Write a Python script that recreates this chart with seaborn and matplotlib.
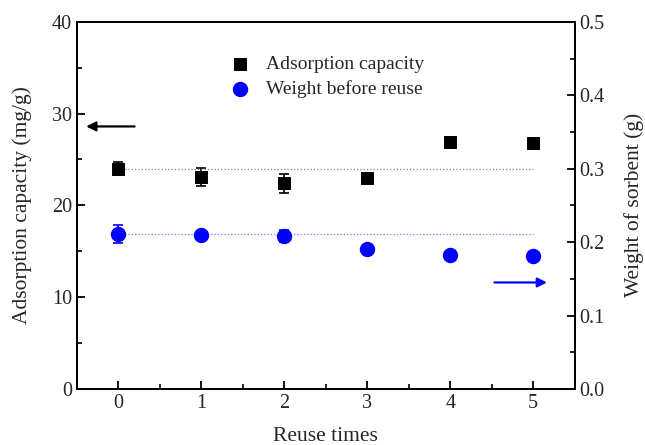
import numpy as np
import pandas as pd
import seaborn as sns
import matplotlib.pyplot as plt
from matplotlib.ticker import MultipleLocator

reuse_times = [0, 1, 2, 3, 4, 5]
capacity = [24.0, 23.1, 22.4, 23.0, 26.9, 26.8]
capacity_err = [0.7, 1.0, 1.0, 0.3, 0.3, 0.3]
weight = [0.211, 0.209, 0.208, 0.191, 0.183, 0.181]
weight_err = [0.012, 0.005, 0.008, 0.003, 0.003, 0.003]

df = pd.DataFrame({"reuse": reuse_times, "capacity": capacity, "weight": weight})

sns.set_style("ticks")
plt.rcParams['font.family'] = ['Liberation Serif', 'DejaVu Serif']

fig = plt.figure(figsize=(6.45, 4.45), dpi=100)
ax = fig.add_axes([0.119, 0.126, 0.772, 0.825])
ax2 = ax.twinx()

# adsorption capacity on the left axis
ax.errorbar(reuse_times, capacity, yerr=capacity_err, fmt='none', ecolor='black',
            elinewidth=1.2, capsize=3.5, capthick=1.2, zorder=2)
sns.scatterplot(data=df, x="reuse", y="capacity", marker='s', s=75, color='black',
                edgecolor='black', ax=ax, zorder=3, label="Adsorption capacity", legend=False)
ax.hlines(capacity[0], reuse_times[0], reuse_times[-1], colors='gray', linestyles=':', lw=0.9)

# sorbent weight on the right axis
ax2.errorbar(reuse_times, weight, yerr=weight_err, fmt='none', ecolor='blue',
             elinewidth=1.2, capsize=3.5, capthick=1.2, zorder=2)
sns.scatterplot(data=df, x="reuse", y="weight", marker='o', s=105, color='blue',
                edgecolor='blue', ax=ax2, zorder=3, label="Weight before reuse", legend=False)
ax2.hlines(weight[0], reuse_times[0], reuse_times[-1], colors='#7777ff', linestyles=':', lw=0.9)

ax.set_xlim(-0.5, 5.5)
ax.set_ylim(0, 40)
ax2.set_ylim(0, 0.5)

ax.set_xlabel("Reuse times", fontsize=15.5, labelpad=10)
ax.set_ylabel("Adsorption capacity (mg/g)", fontsize=15.5, labelpad=14)
ax2.set_ylabel("Weight of sorbent (g)", fontsize=15.5, labelpad=14)

ax.xaxis.set_major_locator(MultipleLocator(1))
ax.xaxis.set_minor_locator(MultipleLocator(0.5))
ax.yaxis.set_major_locator(MultipleLocator(10))
ax.yaxis.set_minor_locator(MultipleLocator(5))
ax2.yaxis.set_major_locator(MultipleLocator(0.1))
ax2.yaxis.set_minor_locator(MultipleLocator(0.05))
ax2.yaxis.set_major_formatter(plt.FormatStrFormatter('%.1f'))

for a in (ax, ax2):
    a.tick_params(which='major', direction='in', length=6, width=1.3, labelsize=14.5, color='black')
    a.tick_params(which='minor', direction='in', length=3.5, width=1.2, color='black')
    for sp in a.spines.values():
        sp.set_visible(True)
        sp.set_linewidth(1.4)
        sp.set_color('black')
ax.tick_params(axis='x', which='both', top=False)
ax.tick_params(axis='y', which='both', right=False)
ax2.tick_params(axis='y', which='both', left=False, right=True)

# arrows pointing to each axis
ax.annotate("", xy=(-0.42, 28.6), xytext=(0.23, 28.6),
            arrowprops=dict(arrowstyle='-|>', color='black', lw=1.6, mutation_scale=14))
ax2.annotate("", xy=(5.2, 0.145), xytext=(4.5, 0.145),
             arrowprops=dict(arrowstyle='-|>', color='blue', lw=1.6, mutation_scale=14))

h1, l1 = ax.get_legend_handles_labels()
h2, l2 = ax2.get_legend_handles_labels()
ax.legend(h1 + h2, l1 + l2, loc='upper left', bbox_to_anchor=(0.27, 0.955), frameon=False,
          fontsize=14, handletextpad=0.7, labelspacing=0.35, handlelength=1.2)

fig.savefig("out.png", dpi=100)
